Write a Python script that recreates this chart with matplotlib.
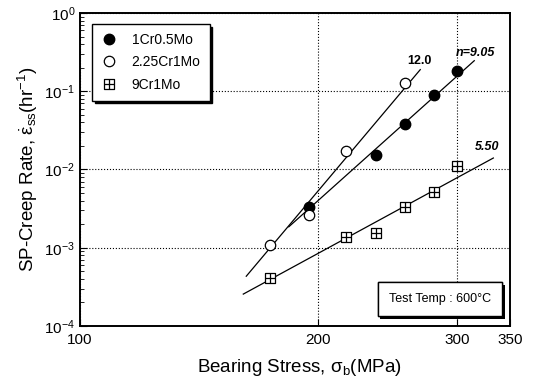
import matplotlib
matplotlib.use('Agg')
import matplotlib.pyplot as plt
import matplotlib.patheffects as pe
from matplotlib.path import Path
from matplotlib.ticker import FixedLocator, NullLocator, FixedFormatter
import numpy as np

plt.rcParams['font.family'] = ['Liberation Sans', 'DejaVu Sans']
plt.rcParams['mathtext.fontset'] = 'custom'
plt.rcParams['mathtext.rm'] = 'Liberation Sans'
plt.rcParams['mathtext.it'] = 'Liberation Sans:italic'
plt.rcParams['mathtext.bf'] = 'Liberation Sans:bold'

# data (stress in MPa, creep rate in 1/hr)
cr1_stress = [195, 237, 258, 280, 300]
cr1_rate = [0.0033, 0.0152, 0.0382, 0.0889, 0.182]

cr225_stress = [174, 195, 217, 258]
cr225_rate = [0.00108, 0.00265, 0.0171, 0.126]

cr9_stress = [174, 217, 237, 258, 280, 300]
cr9_rate = [0.000404, 0.00138, 0.00154, 0.0033, 0.00513, 0.0111]

# stress exponents and the stress span of each fitted line
n_cr1, span_cr1 = 9.05, (183.7, 315.3)
n_cr225, span_cr225 = 12.0, (162.3, 269.4)
n_cr9, span_cr9 = 5.50, (160.9, 333.3)

xticks = [100, 200, 300, 350]
xticklabels = ['100', '200', '300', '350']

# square with a cross inside
sq_verts = [(-1, -1), (1, -1), (1, 1), (-1, 1), (-1, -1),
            (0, -1), (0, 1), (-1, 0), (1, 0)]
sq_codes = [Path.MOVETO, Path.LINETO, Path.LINETO, Path.LINETO, Path.CLOSEPOLY,
            Path.MOVETO, Path.LINETO, Path.MOVETO, Path.LINETO]
sq_marker = Path(sq_verts, sq_codes)


def fit_line(x, y, n, span):
    # power law y = A*x^n with fixed n, intercept from the points
    logA = np.mean(np.log10(y) - n * np.log10(x))
    xs = np.array(span)
    return xs, 10 ** (logA + n * np.log10(xs))


fig = plt.figure(figsize=(5.35, 3.83), dpi=100)
ax = fig.add_axes([0.1495, 0.149, 0.804, 0.817])

for x, y, n, span in [(cr1_stress, cr1_rate, n_cr1, span_cr1),
                      (cr225_stress, cr225_rate, n_cr225, span_cr225),
                      (cr9_stress, cr9_rate, n_cr9, span_cr9)]:
    lx, ly = fit_line(x, y, n, span)
    ax.plot(lx, ly, color='k', lw=0.9, zorder=2)

ax.plot(cr1_stress, cr1_rate, 'o', ms=7.5, mfc='k', mec='k', ls='none',
        label='1Cr0.5Mo', zorder=3)
ax.plot(cr225_stress, cr225_rate, 'o', ms=7.5, mfc='white', mec='k', mew=0.9,
        ls='none', label='2.25Cr1Mo', zorder=3)
ax.plot(cr9_stress, cr9_rate, marker=sq_marker, ms=7, mfc='white', mec='k',
        mew=0.9, ls='none', label='9Cr1Mo', zorder=3)

ax.text(316, 0.31, 'n=9.05', fontsize=9, fontweight='bold', style='italic',
        ha='center', va='center')
ax.text(269, 0.245, '12.0', fontsize=9, fontweight='bold',
        ha='center', va='center')
ax.text(327, 0.0195, '5.50', fontsize=9, fontweight='bold', style='italic',
        ha='center', va='center')

ax.set_xscale('log')
ax.set_yscale('log')
ax.set_xlim(100, 350)
ax.set_ylim(1e-4, 1)
ax.xaxis.set_major_locator(FixedLocator(xticks))
ax.xaxis.set_major_formatter(FixedFormatter(xticklabels))
ax.xaxis.set_minor_locator(NullLocator())
ax.tick_params(which='both', direction='in', top=False, right=False)
ax.tick_params(which='major', length=5, labelsize=11)
ax.tick_params(axis='x', pad=5)
ax.tick_params(which='minor', length=3)
ax.grid(which='major', linestyle=':', color='k', lw=0.8)

for s in ax.spines.values():
    s.set_linewidth(1.4)

ax.set_xlabel(r'Bearing Stress, $\mathrm{\sigma_{b}}$(MPa)', fontsize=13.5,
              labelpad=8)
ax.xaxis.set_label_coords(0.51, -0.1)
ax.set_ylabel(r'SP-Creep Rate, $\mathrm{\dot{\varepsilon}_{ss}}$(hr$^{-1}$)',
              fontsize=13.5, labelpad=3)

leg = ax.legend(loc='upper left', bbox_to_anchor=(0.028, 0.965), fontsize=10,
                frameon=True, fancybox=False, shadow={'color': 'k', 'alpha': 1},
                edgecolor='k', framealpha=1, handletextpad=1.0,
                labelspacing=0.6, borderpad=0.65, handlelength=1.2,
                borderaxespad=0)
leg.get_frame().set_linewidth(1.0)

t = ax.text(0.837, 0.086, 'Test Temp : 600°C', transform=ax.transAxes,
            fontsize=9, ha='center', va='center',
            bbox=dict(boxstyle='square,pad=0.9', fc='white', ec='k', lw=1.0))
t.get_bbox_patch().set_path_effects(
    [pe.withSimplePatchShadow(offset=(2, -2), shadow_rgbFace='k', alpha=1),
     pe.Normal()])

fig.savefig('out.png', dpi=100)
